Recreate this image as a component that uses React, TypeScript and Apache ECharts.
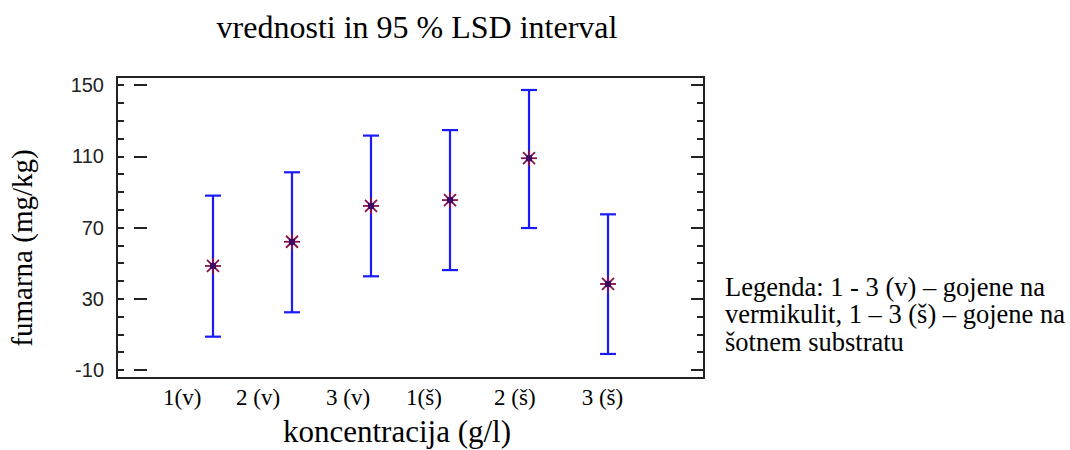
import React, { useEffect, useRef } from "react";
import * as echarts from "echarts";

// ---- data ----
const categories = ["1(v)", "2 (v)", "3 (v)", "1(š)", "2 (š)", "3 (š)"];
const positions = [1, 2, 3, 4, 5, 6];
const means = [48.4, 62.0, 82.1, 85.4, 108.9, 38.3];
const lower = [8.7, 22.4, 42.6, 46.1, 69.7, -1.0];
const upper = [87.9, 101.0, 121.6, 124.7, 147.2, 77.4];
// where the category labels sit along the x scale (they are offset from the points in the original)
const labelPositions = [0.61, 1.57, 2.71, 3.67, 4.82, 5.93];
const majorTicks = [-10, 30, 70, 110, 150];
const minorTicks = [-10, 0, 10, 20, 30, 40, 50, 60, 70, 80, 90, 100, 110, 120, 130, 140, 150];

const titleText = "vrednosti in 95 % LSD interval";
const xName = "koncentracija (g/l)";
const yName = "fumarna (mg/kg)";
const legendText = "Legenda: 1 - 3 (v) – gojene na\nvermikulit, 1 – 3 (š) – gojene na\nšotnem substratu";

const Y_MIN = -14.5;
const Y_MAX = 154.5;
const X_MIN = -0.215;
const X_MAX = 7.215;

const SERIF = "'Liberation Serif', 'Times New Roman', serif";
const SANS = "'Liberation Sans', Arial, sans-serif";
const AXIS_COLOR = "#222";
const BAR_COLOR = "#1a1aff";
const MARK_COLOR = "#8a1048";

function yAxisDef(position: string, ticks: number[], len: number, labels: boolean) {
  return {
    type: "value",
    position,
    min: Y_MIN,
    max: Y_MAX,
    axisLine: { show: false },
    splitLine: { show: false },
    axisTick: {
      show: true,
      inside: true,
      length: len,
      customValues: ticks,
      lineStyle: { color: AXIS_COLOR, width: 2 },
    },
    axisLabel: labels
      ? {
          show: true,
          customValues: majorTicks,
          fontFamily: SANS,
          fontSize: 20,
          color: AXIS_COLOR,
          margin: 13,
        }
      : { show: false },
  };
}

export default function App() {
  const ref = useRef<HTMLDivElement>(null);

  useEffect(() => {
    if (!ref.current) return;
    const chart = echarts.init(ref.current, null, { renderer: "svg" });

    const data = positions.map((p, i) => [p, lower[i], means[i], upper[i]]);

    const renderItem = (params: any, api: any) => {
      const x = api.value(0);
      const lo = api.coord([x, api.value(1)]);
      const mid = api.coord([x, api.value(2)]);
      const hi = api.coord([x, api.value(3)]);
      const cap = 8;
      const m = 8;
      const d = 6;
      const barStyle = { stroke: BAR_COLOR, lineWidth: 2.2 };
      const markStyle = { stroke: MARK_COLOR, lineWidth: 1.8 };
      return {
        type: "group",
        children: [
          { type: "line", shape: { x1: lo[0], y1: lo[1], x2: hi[0], y2: hi[1] }, style: barStyle },
          { type: "line", shape: { x1: hi[0] - cap, y1: hi[1], x2: hi[0] + cap, y2: hi[1] }, style: barStyle },
          { type: "line", shape: { x1: lo[0] - cap, y1: lo[1], x2: lo[0] + cap, y2: lo[1] }, style: barStyle },
          { type: "line", shape: { x1: mid[0] - m, y1: mid[1], x2: mid[0] + m, y2: mid[1] }, style: markStyle },
          { type: "line", shape: { x1: mid[0] - d, y1: mid[1] - d, x2: mid[0] + d, y2: mid[1] + d }, style: markStyle },
          { type: "line", shape: { x1: mid[0] - d, y1: mid[1] + d, x2: mid[0] + d, y2: mid[1] - d }, style: markStyle },
          { type: "line", shape: { x1: mid[0], y1: mid[1] - m, x2: mid[0], y2: mid[1] + m }, style: markStyle },
          { type: "rect", shape: { x: mid[0] - 3, y: mid[1] - 3, width: 6, height: 6 }, style: { fill: "#3c0a66" } },
        ],
      };
    };

    const option: any = {
      animation: false,
      backgroundColor: "#fff",
      grid: {
        left: 117,
        right: 366,
        top: 77,
        bottom: 72,
        show: true,
        borderColor: AXIS_COLOR,
        borderWidth: 2,
        backgroundColor: "transparent",
      },
      xAxis: [
        {
          type: "value",
          min: X_MIN,
          max: X_MAX,
          axisLine: { show: false },
          axisTick: { show: false },
          splitLine: { show: false },
          axisLabel: {
            show: true,
            customValues: labelPositions,
            formatter: (v: number) => {
              let best = 0;
              labelPositions.forEach((p, i) => {
                if (Math.abs(p - v) < Math.abs(labelPositions[best] - v)) best = i;
              });
              return categories[best];
            },
            fontFamily: SERIF,
            fontSize: 23,
            color: "#000",
            margin: 8,
          },
        },
      ],
      yAxis: [
        yAxisDef("left", majorTicks, 13, true),
        yAxisDef("left", minorTicks, 7, false),
        yAxisDef("right", majorTicks, 13, false),
        yAxisDef("right", minorTicks, 7, false),
      ],
      series: [
        {
          type: "custom",
          xAxisIndex: 0,
          yAxisIndex: 0,
          renderItem,
          data,
          encode: { x: 0, y: [1, 2, 3] },
          clip: false,
        },
      ],
      graphic: [
        {
          type: "text",
          x: 417,
          y: 27,
          style: {
            text: titleText,
            fontFamily: SERIF,
            fontSize: 32,
            fill: "#000",
            textAlign: "center",
            textVerticalAlign: "middle",
          },
        },
        {
          type: "text",
          x: 22,
          y: 248,
          rotation: Math.PI / 2,
          style: {
            text: yName,
            fontFamily: SERIF,
            fontSize: 29,
            fill: "#000",
            textAlign: "center",
            textVerticalAlign: "middle",
          },
        },
        {
          type: "text",
          x: 397,
          y: 431,
          style: {
            text: xName,
            fontFamily: SERIF,
            fontSize: 31,
            fill: "#000",
            textAlign: "center",
            textVerticalAlign: "middle",
          },
        },
        {
          type: "text",
          x: 725,
          y: 273,
          style: {
            text: legendText,
            fontFamily: SERIF,
            fontSize: 26.5,
            lineHeight: 27.5,
            fill: "#000",
            textAlign: "left",
            textVerticalAlign: "top",
          },
        },
      ],
    };

    chart.setOption(option);
    return () => chart.dispose();
  }, []);

  return (
    <div
      ref={ref}
      style={{ position: "fixed", left: 0, top: 0, width: 1070, height: 450, background: "#fff" }}
    />
  );
}
